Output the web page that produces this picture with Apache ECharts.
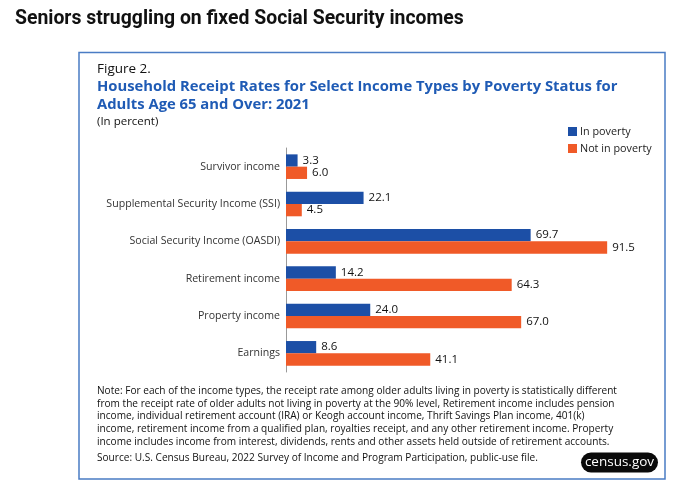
<!DOCTYPE html>
<html>
<head>
<meta charset="utf-8">
<script src="https://cdn.jsdelivr.net/npm/echarts@6/dist/echarts.min.js"></script>
<style>
html,body{margin:0;padding:0;background:#fff;}
#c{width:680px;height:491px;}
</style>
</head>
<body>
<div id="c"></div>
<script>
const categories = ['Survivor income','Supplemental Security Income (SSI)','Social Security Income (OASDI)','Retirement income','Property income','Earnings'];
const inPoverty = [3.3, 22.1, 69.7, 14.2, 24.0, 8.6];
const notInPoverty = [6.0, 4.5, 91.5, 64.3, 67.0, 41.1];
const seriesNames = ['In poverty','Not in poverty'];
const noteLines = [
 'Note: For each of the income types, the receipt rate among older adults living in poverty is statistically different',
 'from the receipt rate of older adults not living in poverty at the 90% level, Retirement income includes pension',
 'income, individual retirement account (IRA) or Keogh account income, Thrift Savings Plan income, 401(k)',
 'income, retirement income from a qualified plan, royalties receipt, and any other retirement income. Property',
 'income includes income from interest, dividends, rents and other assets held outside of retirement accounts.'
];
const sourceText = 'Source: U.S. Census Bureau, 2022 Survey of Income and Program Participation, public-use file.';

const FONT = '"Open Sans", "Noto Sans", sans-serif';
const BLUE = '#1c4fa6';
const ORANGE = '#f05a28';

const chart = echarts.init(document.getElementById('c'));
chart.setOption({
  backgroundColor: '#fff',
  animation: false,
  textStyle: { fontFamily: FONT },
  grid: { left: 286, right: 43, top: 148, height: 224 },
  xAxis: { type: 'value', min: 0, max: 100, show: false },
  yAxis: {
    type: 'category', data: categories, inverse: true,
    axisLine: { show: true, lineStyle: { color: '#999', width: 1 } },
    axisTick: { show: false },
    axisLabel: { margin: 6, fontSize: 10.6, color: '#333', fontFamily: FONT }
  },
  legend: {
    orient: 'vertical', left: 563, top: 121, itemWidth: 9, itemHeight: 9, itemGap: 6,
    icon: 'rect', data: seriesNames,
    textStyle: { fontSize: 10.8, color: '#222', fontFamily: FONT, padding: [0,0,0,-2] }
  },
  series: [
    { name: seriesNames[0], type: 'bar', data: inPoverty, barWidth: 12.3, barGap: '0%',
      itemStyle: { color: BLUE },
      label: { show: true, position: 'right', distance: 5, fontSize: 11.5, color: '#111', fontFamily: FONT,
               formatter: p => p.value.toFixed(1) } },
    { name: seriesNames[1], type: 'bar', data: notInPoverty, barWidth: 12.3, barGap: '0%',
      itemStyle: { color: ORANGE },
      label: { show: true, position: 'right', distance: 5, fontSize: 11.5, color: '#111', fontFamily: FONT,
               formatter: p => p.value.toFixed(1) } }
  ],
  graphic: [
    { type: 'rect', shape: { x: 79, y: 52.5, width: 586, height: 426.5 }, z: -1,
      style: { fill: '#fff', stroke: '#4a7cc4', lineWidth: 1.5 } },
    { type: 'text', left: 15, top: 10,
      style: { text: 'Seniors struggling on fixed Social Security incomes', fontSize: 19.4, fontWeight: 'bold',
               fontFamily: 'Roboto, sans-serif', fill: '#111' } },
    { type: 'text', left: 97, top: 62,
      style: { text: 'Figure 2.', fontSize: 13.5, fontFamily: FONT, fill: '#111' } },
    { type: 'text', left: 97, top: 78,
      style: { text: 'Household Receipt Rates for Select Income Types by Poverty Status for\nAdults Age 65 and Over: 2021',
               fontSize: 14.8, fontWeight: 'bold', lineHeight: 18, fontFamily: FONT, fill: '#1f5bb5' } },
    { type: 'text', left: 97, top: 116,
      style: { text: '(In percent)', fontSize: 11.5, fontFamily: FONT, fill: '#111' } },
    { type: 'text', left: 97, top: 385,
      style: { text: noteLines.join('\n'), fontSize: 10.1, lineHeight: 12.6, fontFamily: FONT, fill: '#111' } },
    { type: 'text', left: 97, top: 453,
      style: { text: sourceText, fontSize: 10.1, fontFamily: FONT, fill: '#111' } },
    { type: 'rect', shape: { x: 581, y: 452.5, width: 77, height: 20, r: 10 },
      style: { fill: '#0a0a0a' } },
    { type: 'text', x: 619.5, y: 462.5,
      style: { text: 'census.gov', fontSize: 13.5, fontFamily: FONT, fill: '#fff', align: 'center', verticalAlign: 'middle' } }
  ]
});
</script>
</body>
</html>
